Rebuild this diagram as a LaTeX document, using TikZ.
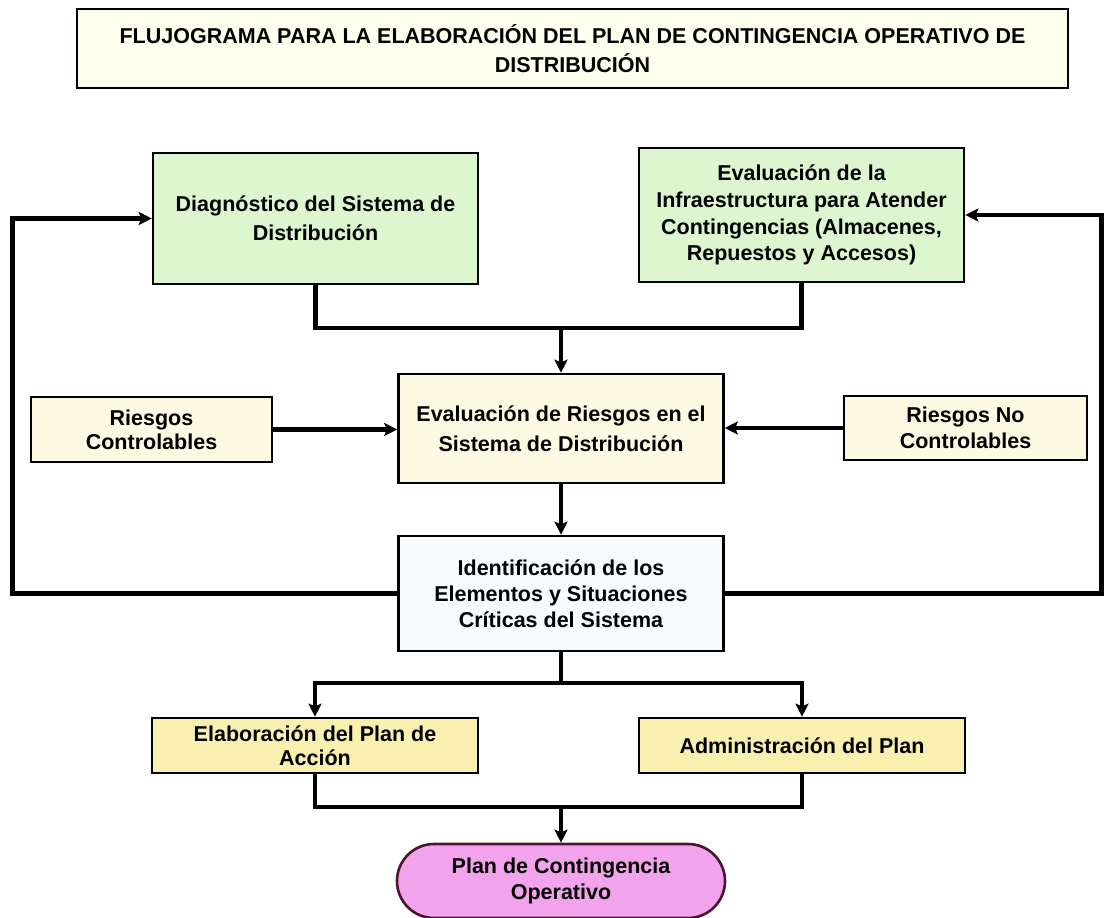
\documentclass[tikz,border=0pt]{standalone}
\usepackage{fontspec}
\setmainfont{Liberation Sans}
\usetikzlibrary{arrows.meta}
\definecolor{titlefill}{HTML}{FFFFEE}
\definecolor{greenfill}{HTML}{DDF6D0}
\definecolor{creamfill}{HTML}{FCFAE2}
\definecolor{yellowfill}{HTML}{F9F0B0}
\definecolor{pinkfill}{HTML}{F3A3EC}
\definecolor{pinkborder}{HTML}{4A1530}
\definecolor{identfill}{HTML}{F8FBFE}
\begin{document}
\begin{tikzpicture}[x=1pt,y=-1pt,
  flowbox/.style={draw=black, line width=2.6pt, align=center, inner sep=0pt,
    font=\bfseries\fontsize{21.5}{26}\selectfont},
  conn/.style={line width=4.2pt},
  arr/.style={conn, -{Stealth[length=13pt,width=13pt,inset=2.5pt]}},
]
\useasboundingbox (0,0) rectangle (1104,918);

% title
\node[flowbox, fill=titlefill, minimum width=991pt, minimum height=79pt,
  font=\bfseries\fontsize{21.5}{29}\selectfont] (title) at (572.5,48.5)
  {FLUJOGRAMA PARA LA ELABORACIÓN DEL PLAN DE CONTINGENCIA OPERATIVO DE\\DISTRIBUCIÓN};

% top boxes
\node[flowbox, fill=greenfill, minimum width=325pt, minimum height=131pt,
  font=\bfseries\fontsize{21.5}{29}\selectfont] (diag) at (315.5,218.5)
  {Diagnóstico del Sistema de\\Distribución};
\node[flowbox, fill=greenfill, minimum width=325pt, minimum height=134pt,
  font=\bfseries\fontsize{21.5}{26.7}\selectfont] (infra) at (801.5,215)
  {Evaluación de la\\Infraestructura para Atender\\Contingencias (Almacenes,\\Repuestos y Accesos)};

% middle row
\node[flowbox, fill=creamfill, minimum width=241pt, minimum height=65pt,
  font=\bfseries\fontsize{21.5}{24}\selectfont] (rc) at (151.5,429.5)
  {Riesgos\\Controlables};
\node[flowbox, fill=creamfill, minimum width=325pt, minimum height=109pt,
  font=\bfseries\fontsize{21.5}{30}\selectfont] (eval) at (561,428.5)
  {Evaluación de Riesgos en el\\Sistema de Distribución};
\node[flowbox, fill=creamfill, minimum width=243pt, minimum height=64pt] (rnc) at (965.5,428)
  {Riesgos No\\Controlables};

% identification
\node[flowbox, fill=identfill, minimum width=325pt, minimum height=115pt] (ident) at (561,593.5)
  {Identificación de los\\Elementos y Situaciones\\Críticas del Sistema};

% lower row
\node[flowbox, fill=yellowfill, minimum width=326pt, minimum height=55pt,
  font=\bfseries\fontsize{21.5}{24}\selectfont] (elab) at (315,745.5)
  {Elaboración del Plan de\\Acción};
\node[flowbox, fill=yellowfill, minimum width=326pt, minimum height=55pt] (admin) at (802,745.5)
  {Administración del Plan};

% final pill
\node[flowbox, draw=pinkborder, fill=pinkfill, rounded corners=37pt,
  minimum width=328pt, minimum height=74pt] (pill) at (561,881)
  {Plan de Contingencia\\Operativo};

% connector coordinates
\coordinate (jtop) at (0,328);
\coordinate (lft) at (12.5,0);
\coordinate (rgt) at (1101.5,0);
\coordinate (br) at (0,683);
\coordinate (jbot) at (0,807);

% top joins
\draw[conn] (diag.south) |- (eval.north |- jtop);
\draw[conn] (infra.south) |- (eval.north |- jtop);
\draw[arr] (eval.north |- jtop) -- (eval.north);

% risks into evaluation
\draw[arr] (rc.east) -- (rc.east -| eval.west);
\draw[arr] (rnc.west) -- (rnc.west -| eval.east);

% evaluation to identification
\draw[arr] (eval.south) -- (ident.north);

% feedback loops
\draw[arr] (ident.west) -- (lft |- ident.west) |- (diag.west);
\draw[arr] (ident.east) -- (rgt |- ident.east) |- (infra.east);

% branch
\draw[conn] (ident.south) -- (ident.south |- br);
\draw[arr] (ident.south |- br) -| (elab.north);
\draw[arr] (ident.south |- br) -| (admin.north);

% bottom join
\draw[conn] (elab.south) |- (pill.north |- jbot);
\draw[conn] (admin.south) |- (pill.north |- jbot);
\draw[arr] (pill.north |- jbot) -- (pill.north);
\end{tikzpicture}
\end{document}
